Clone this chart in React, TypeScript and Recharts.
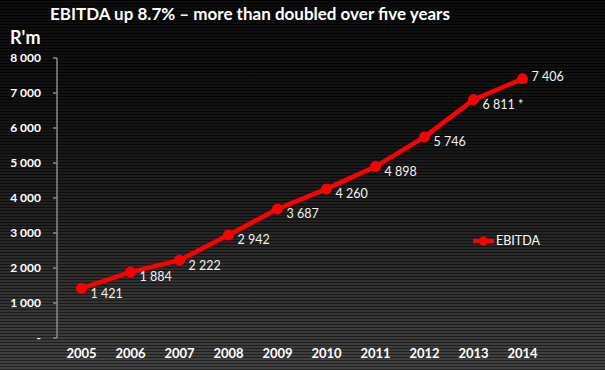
import { LineChart, Line, XAxis, YAxis, LabelList } from "recharts";

const YEARS = ["2005", "2006", "2007", "2008", "2009", "2010", "2011", "2012", "2013", "2014"];
const EBITDA = [1421, 1884, 2222, 2942, 3687, 4260, 4898, 5746, 6811, 7406];
const LABELS = ["1 421", "1 884", "2 222", "2 942", "3 687", "4 260", "4 898", "5 746", "6 811 *", "7 406"];
const Y_TICKS = [0, 1000, 2000, 3000, 4000, 5000, 6000, 7000, 8000];
const EDGE_TICKS = [0, 1, 2, 3, 4, 5, 6, 7, 8, 9, 10];

const data = YEARS.map((year, i) => ({ year, idx: i + 0.5, ebitda: EBITDA[i], label: LABELS[i] }));

const FONT = "Lato, 'Open Sans', sans-serif";
const RED = "#ff0000";
const AXIS = "#8a8a8a";

const fmtY = (v: number) => (v === 0 ? "-" : `${Math.floor(v / 1000)} ${String(v % 1000).padStart(3, "0")}`);

function PointLabel(props: any) {
  const { x, y, value, index } = props;
  const last = index === EBITDA.length - 1;
  return (
    <text x={x + 9} y={y + (last ? -2 : 5)} dy="0.35em" fill="#f2f2f2" fontSize={12.5} fontFamily={FONT}>
      {value}
    </text>
  );
}

export default function App() {
  return (
    <div
      style={{
        position: "absolute",
        left: 0,
        top: 0,
        width: 605,
        height: 370,
        overflow: "hidden",
        fontFamily: FONT,
        background:
          "repeating-linear-gradient(to bottom, rgba(0,0,0,0.45) 0px, rgba(0,0,0,0.45) 1.5px, rgba(255,255,255,0.03) 1.5px, rgba(255,255,255,0.03) 3px), linear-gradient(to bottom, #050505 0%, #0b0b0b 30%, #1c1c1c 60%, #3c3c3c 100%)",
      }}
    >
      <div style={{ position: "absolute", left: 50, top: 3, color: "#fff", fontWeight: 700, fontSize: 17, whiteSpace: "nowrap" }}>
        EBITDA up 8.7% – more than doubled over five years
      </div>
      <div style={{ position: "absolute", left: 10, top: 26, color: "#fff", fontWeight: 700, fontSize: 18 }}>R'm</div>

      <LineChart width={605} height={370} data={data} margin={{ top: 58, right: 58, bottom: 2, left: 0 }}>
        <XAxis
          xAxisId="edges"
          type="number"
          dataKey="idx"
          domain={[0, 10]}
          ticks={EDGE_TICKS}
          tickFormatter={() => ""}
          height={0}
          mirror
          tickSize={4}
          stroke={AXIS}
          axisLine={{ stroke: AXIS, strokeWidth: 1.5 }}
          tickLine={{ stroke: AXIS, strokeWidth: 1.5 }}
        />
        <XAxis
          dataKey="year"
          scale="band"
          height={30}
          axisLine={false}
          tickLine={false}
          tickSize={0}
          tickMargin={11}
          interval={0}
          tick={{ fill: "#fff", fontSize: 13, fontWeight: 700, fontFamily: FONT }}
        />
        <YAxis
          width={57}
          domain={[0, 8000]}
          ticks={Y_TICKS}
          tickFormatter={fmtY}
          tickSize={4}
          tickMargin={12}
          axisLine={{ stroke: AXIS, strokeWidth: 1.5 }}
          tickLine={{ stroke: AXIS, strokeWidth: 1.5 }}
          tick={{ fill: "#fff", fontSize: 12, fontWeight: 700, fontFamily: FONT }}
        />
        <Line
          type="linear"
          dataKey="ebitda"
          stroke={RED}
          strokeWidth={4.5}
          dot={{ r: 5.5, fill: RED, stroke: RED, strokeWidth: 0 }}
          activeDot={false}
          isAnimationActive={false}
        >
          <LabelList dataKey="label" content={<PointLabel />} />
        </Line>
      </LineChart>

      <div style={{ position: "absolute", left: 472, top: 233, display: "flex", alignItems: "center", color: "#fff", fontSize: 12.5 }}>
        <svg width={23} height={14}>
          <line x1={1} y1={7} x2={22} y2={7} stroke={RED} strokeWidth={4.5} />
          <circle cx={11.5} cy={7} r={4.5} fill={RED} />
        </svg>
        <span style={{ marginLeft: 1 }}>EBITDA</span>
      </div>
    </div>
  );
}
